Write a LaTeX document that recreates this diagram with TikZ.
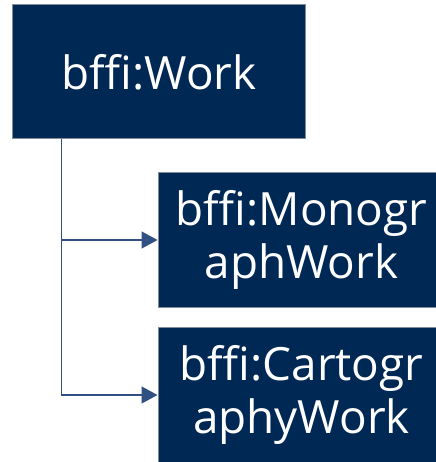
\documentclass[tikz,border=0pt]{standalone}
\usepackage{fontspec}
\setmainfont{Open Sans}
\usetikzlibrary{arrows.meta,calc}
\definecolor{navy}{RGB}{0,40,85}
\definecolor{edgegray}{RGB}{130,140,155}
\definecolor{linkblue}{RGB}{47,80,128}
\tikzset{
  classbox/.style={draw=edgegray,line width=1bp,fill=navy,text=white,align=center,
    inner sep=0pt,font=\fontsize{46}{53}\selectfont},
  link/.style={draw=linkblue,line width=1.5bp,-{Triangle[length=16bp,width=17bp]}}
}
\begin{document}
\begin{tikzpicture}[x=1bp,y=-1bp]
\useasboundingbox (0,0) rectangle (436,462);
\node[classbox,minimum width=292bp,minimum height=134bp] (work) at (159,72) {bffi:Work};
\node[classbox,minimum width=287bp,minimum height=134bp] (mono) at (301.5,240) {bffi:Monogr\\aphWork};
\node[classbox,minimum width=287bp,minimum height=136bp] (carto) at (301.5,395) {bffi:Cartogr\\aphyWork};
\coordinate (trunk) at ($(work.south west)+(49bp,0)$);
\draw[link] (trunk) |- (mono.west);
\draw[link] (trunk) |- (carto.west);
\end{tikzpicture}
\end{document}
